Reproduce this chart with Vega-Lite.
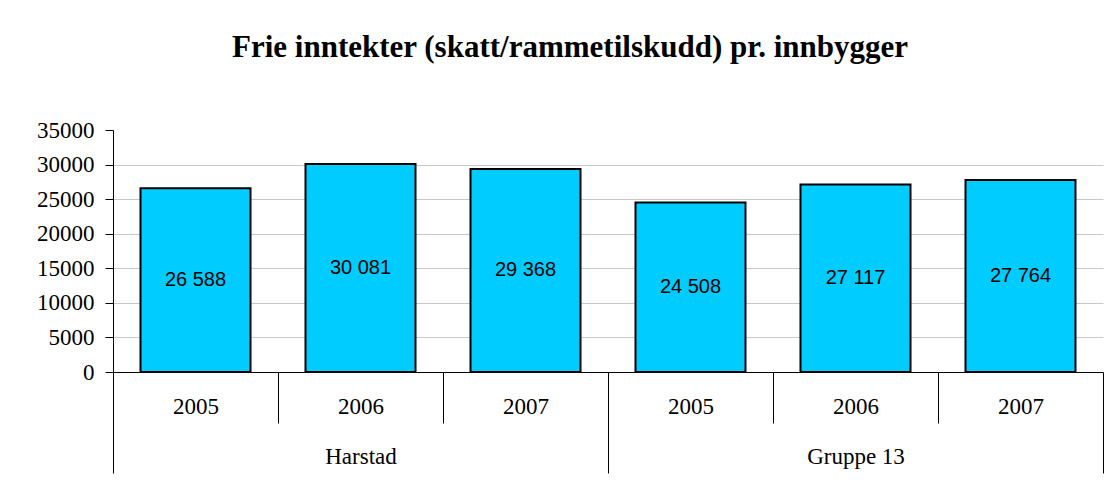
{
  "$schema": "https://vega.github.io/schema/vega-lite/v6.json",
  "padding": {"left": 36, "top": 32, "right": 12, "bottom": 10},
  "width": 990,
  "height": 242,
  "background": "white",
  "config": {
    "aria": false,
    "view": {"stroke": null},
    "font": "Liberation Serif"
  },
  "title": {
    "text": "Frie inntekter (skatt/rammetilskudd) pr. innbygger",
    "font": "Liberation Serif",
    "fontSize": 31,
    "fontWeight": "bold",
    "anchor": "middle",
    "frame": "group",
    "baseline": "alphabetic",
    "offset": 31,
    "dx": -38,
    "color": "black"
  },
  "data": {
    "values": [
      {"group": "Harstad", "key": "Harstad 2005", "value": 26588, "label": "26 588"},
      {"group": "Harstad", "key": "Harstad 2006", "value": 30081, "label": "30 081"},
      {"group": "Harstad", "key": "Harstad 2007", "value": 29368, "label": "29 368"},
      {"group": "Gruppe 13", "key": "Gruppe 13 2005", "value": 24508, "label": "24 508"},
      {"group": "Gruppe 13", "key": "Gruppe 13 2006", "value": 27117, "label": "27 117"},
      {"group": "Gruppe 13", "key": "Gruppe 13 2007", "value": 27764, "label": "27 764"}
    ]
  },
  "encoding": {
    "x": {
      "field": "key", "type": "nominal", "sort": null,
      "scale": {"paddingInner": 0, "paddingOuter": 0},
      "axis": {
        "orient": "bottom", "title": null,
        "labelExpr": "datum.extra ? '' : (datum.value === 'Harstad 2006' ? ['2006', 'Harstad'] : (datum.value === 'Gruppe 13 2006' ? ['2006', 'Gruppe 13'] : slice(datum.value, -4)))",
        "labelAngle": 0,
        "labelFont": "Liberation Serif", "labelFontSize": 23, "labelColor": "black",
        "labelLineHeight": 50,
        "labelBaseline": "top",
        "labelOverlap": false,
        "labelPadding": {"condition": {"test": "datum.extra || datum.index === 1 || datum.value === 'Harstad 2007' || datum.value === 'Gruppe 13 2007'", "value": -78}, "value": -28},
        "tickBand": "extent",
        "tickSize": {"condition": {"test": "datum.extra || datum.index === 1 || datum.value === 'Harstad 2007' || datum.value === 'Gruppe 13 2007'", "value": 101}, "value": 51},
        "tickColor": "black", "tickWidth": 1,
        "domainColor": "black", "domainWidth": 1, "grid": false
      }
    }
  },
  "layer": [
    {
      "mark": {"type": "bar", "aria": false, "fill": "#00CCFF", "stroke": "black", "strokeWidth": 2, "width": {"band": 0.6667}},
      "encoding": {
        "y": {
          "field": "value", "type": "quantitative",
          "scale": {"domain": [0, 35000], "nice": false, "zero": true},
          "axis": {
            "orient": "left", "title": null,
            "values": [0, 5000, 10000, 15000, 20000, 25000, 30000, 35000],
            "format": "d",
            "grid": true,
            "gridColor": {"condition": {"test": "datum.value === 35000", "value": "transparent"}, "value": "#c8c8c8"},
            "gridWidth": 1,
            "tickSize": 8, "tickColor": "black", "domainColor": "black",
            "labelPadding": 11, "labelFont": "Liberation Serif", "labelFontSize": 23, "labelColor": "black"
          }
        }
      }
    },
    {
      "mark": {"type": "text", "aria": false, "font": "Liberation Sans", "fontSize": 20, "baseline": "middle", "align": "center", "color": "black"},
      "encoding": {
        "y": {
          "field": "value", "type": "quantitative",
          "scale": {"domain": [0, 70000], "nice": false, "zero": true},
          "axis": null
        },
        "text": {"field": "label", "type": "nominal"}
      }
    }
  ],
  "resolve": {
    "scale": {"y": "independent"},
    "axis": {"y": "independent"}
  }
}
